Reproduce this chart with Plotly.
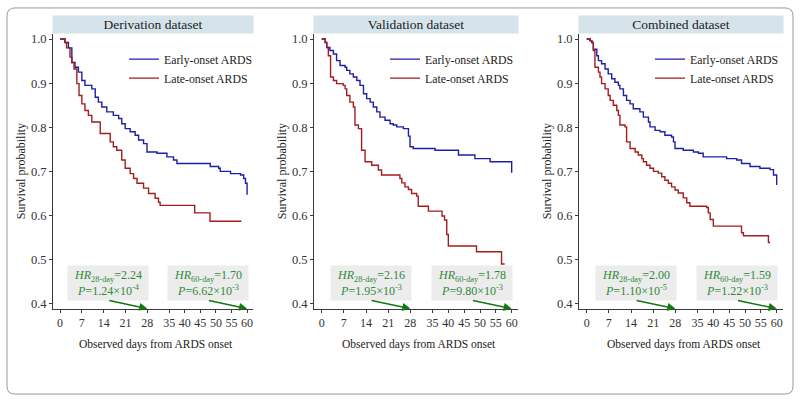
import plotly.graph_objects as go

# ---------------- data ----------------
panel_titles = ["Derivation dataset", "Validation dataset", "Combined dataset"]
series_names = ["Early-onset ARDS", "Late-onset ARDS"]

deriv_early_t = [0, 1.6, 2.7, 3.8, 4.8, 5.9, 7.0, 8.0, 10.2, 11.3, 12.3, 13.4, 15.0, 17.1, 18.8, 19.8,
                 20.9, 22.5, 24.1, 25.2, 26.8, 27.9, 31.1, 34.3, 36.4, 37.5, 48.2, 50.9, 51.4, 54.7,
                 57.9, 58.9, 59.5, 60.0]
deriv_early_s = [1.0, 0.992, 0.980, 0.947, 0.936, 0.925, 0.906, 0.895, 0.887, 0.868, 0.857, 0.846, 0.835,
                 0.827, 0.820, 0.808, 0.797, 0.790, 0.782, 0.771, 0.763, 0.744, 0.741, 0.733, 0.726,
                 0.718, 0.711, 0.707, 0.700, 0.695, 0.692, 0.684, 0.673, 0.647]
deriv_late_t = [0, 1.6, 2.1, 3.2, 3.8, 4.5, 5.4, 6.1, 7.0, 8.0, 9.1, 10.2, 12.9, 16.1, 17.1, 18.2, 19.8,
                20.9, 22.5, 23.6, 24.7, 26.8, 28.4, 30.5, 31.6, 32.1, 43.2, 48.1, 58.2]
deriv_late_s = [1.0, 0.992, 0.980, 0.959, 0.947, 0.932, 0.899, 0.872, 0.853, 0.838, 0.827, 0.812, 0.786,
                0.767, 0.756, 0.748, 0.726, 0.707, 0.695, 0.684, 0.673, 0.662, 0.650, 0.639, 0.630,
                0.623, 0.606, 0.587, 0.587]

valid_early_t = [0, 1.1, 1.6, 2.6, 3.7, 4.7, 5.8, 7.4, 7.9, 8.9, 10.0, 11.1, 12.1, 13.2, 14.2, 15.3, 16.3,
                 17.4, 18.4, 20.0, 21.6, 22.6, 23.7, 25.8, 27.4, 27.9, 28.9, 35.8, 43.2, 48.4, 53.2,
                 60.0, 60.0]
valid_early_s = [1.0, 0.992, 0.981, 0.974, 0.966, 0.951, 0.940, 0.936, 0.929, 0.921, 0.914, 0.906, 0.895,
                 0.876, 0.865, 0.857, 0.846, 0.835, 0.823, 0.816, 0.808, 0.805, 0.801, 0.797, 0.780,
                 0.756, 0.752, 0.748, 0.737, 0.729, 0.722, 0.722, 0.697]
valid_late_t = [0, 1.1, 1.6, 2.1, 2.8, 3.7, 4.7, 6.8, 7.4, 7.9, 8.9, 10.0, 10.5, 11.6, 12.6, 13.7, 15.8,
                17.9, 18.9, 24.7, 25.3, 26.3, 27.4, 28.4, 30.0, 30.5, 33.7, 38.0, 38.8, 39.5, 40.0,
                48.9, 56.8, 57.8]
valid_late_s = [1.0, 0.992, 0.981, 0.962, 0.914, 0.906, 0.899, 0.895, 0.887, 0.872, 0.857, 0.846, 0.805,
                0.797, 0.748, 0.722, 0.714, 0.703, 0.692, 0.684, 0.674, 0.665, 0.659, 0.650, 0.644,
                0.621, 0.610, 0.599, 0.590, 0.557, 0.531, 0.518, 0.490, 0.490]

comb_early_t = [0, 1.1, 1.6, 2.1, 3.2, 3.7, 4.7, 5.8, 6.8, 7.9, 8.9, 10.0, 10.5, 11.6, 12.6, 13.7, 14.7,
                16.8, 17.9, 19.5, 20.0, 21.6, 23.2, 24.7, 26.8, 27.4, 27.9, 30.5, 33.7, 35.3, 36.8,
                44.2, 47.4, 48.9, 51.6, 54.7, 57.9, 59.0, 60.0]
comb_early_s = [1.0, 0.996, 0.992, 0.977, 0.962, 0.951, 0.944, 0.932, 0.921, 0.910, 0.902, 0.895, 0.887,
                0.872, 0.861, 0.853, 0.842, 0.835, 0.823, 0.812, 0.801, 0.793, 0.790, 0.782, 0.778,
                0.767, 0.752, 0.748, 0.744, 0.741, 0.733, 0.729, 0.726, 0.718, 0.711, 0.707, 0.704,
                0.692, 0.669]
comb_late_t = [0, 1.1, 1.6, 2.1, 2.6, 3.7, 4.2, 4.7, 5.8, 6.8, 7.4, 8.4, 9.5, 10.0, 10.5, 12.1, 12.6,
               13.7, 15.3, 16.3, 17.4, 17.9, 18.9, 20.0, 21.1, 22.6, 23.7, 24.7, 25.8, 26.8, 27.9,
               28.9, 30.5, 31.6, 32.6, 37.9, 38.4, 39.0, 40.0, 48.9, 49.5, 57.4, 57.9]
comb_late_s = [1.0, 0.996, 0.992, 0.974, 0.936, 0.925, 0.914, 0.899, 0.887, 0.872, 0.861, 0.850, 0.838,
               0.827, 0.805, 0.801, 0.767, 0.752, 0.744, 0.737, 0.729, 0.722, 0.714, 0.707, 0.700,
               0.696, 0.688, 0.680, 0.673, 0.665, 0.658, 0.651, 0.640, 0.629, 0.621, 0.618, 0.606,
               0.591, 0.576, 0.561, 0.554, 0.539, 0.539]

hr28 = ["2.24", "2.16", "2.00"]
p28 = [("1.24", "-4"), ("1.95", "-3"), ("1.10", "-5")]
hr60 = ["1.70", "1.78", "1.59"]
p60 = [("6.62", "-3"), ("9.80", "-3"), ("1.22", "-3")]

x_ticks = [0, 7, 14, 21, 28, 35, 40, 45, 50, 55, 60]
y_ticks = [0.4, 0.5, 0.6, 0.7, 0.8, 0.9, 1.0]

curves = [
    (deriv_early_t, deriv_early_s, deriv_late_t, deriv_late_s),
    (valid_early_t, valid_early_s, valid_late_t, valid_late_s),
    (comb_early_t, comb_early_s, comb_late_t, comb_late_s),
]

# ---------------- styling / layout ----------------
W, H = 800, 404
FONT = "Liberation Serif"
BLUE = "#1f1fa6"
RED = "#a31d1d"
GREEN_TXT = "#2f8a35"
GREEN_ARR = "#127812"
AX = "#3a3a3a"

panel_px = [(53, 253), (314, 518), (579, 783)]
x_ranges = [[-2.25, 61.9], [-2.43, 62.0], [-2.43, 62.0]]
y_top_px, y_bot_px = 33, 310
y_range = [0.3888, 1.012]

fig = go.Figure()
layout = dict(
    width=W, height=H,
    margin=dict(l=0, r=0, t=0, b=0),
    paper_bgcolor="white", plot_bgcolor="white",
    font=dict(family=FONT, size=12, color="#222"),
    annotations=[], shapes=[],
)

def px2x(p):
    return p / W

def px2y(p):
    return 1 - p / H

for i in range(3):
    sfx = "" if i == 0 else str(i + 1)
    xa, ya = "x" + sfx, "y" + sfx
    leg = "legend" + sfx
    et, es, lt, ls = curves[i]
    fig.add_trace(go.Scatter(x=et, y=es, mode="lines", line=dict(color=BLUE, width=1.4, shape="hv"),
                             name=series_names[0], xaxis=xa, yaxis=ya, legend=leg))
    fig.add_trace(go.Scatter(x=lt, y=ls, mode="lines", line=dict(color=RED, width=1.4, shape="hv"),
                             name=series_names[1], xaxis=xa, yaxis=ya, legend=leg))

    l, r = panel_px[i]
    layout["xaxis" + sfx] = dict(
        domain=[px2x(l), px2x(r)], range=x_ranges[i], anchor=ya,
        tickvals=x_ticks, ticktext=[str(v) for v in x_ticks],
        ticks="outside", ticklen=3, tickcolor=AX, tickwidth=1,
        showline=True, linecolor=AX, linewidth=1, showgrid=False, zeroline=False,
        tickfont=dict(family=FONT, size=12, color="#333"),
    )
    layout["yaxis" + sfx] = dict(
        domain=[px2y(y_bot_px), px2y(y_top_px)], range=y_range, anchor=xa,
        tickvals=y_ticks, ticktext=["%.1f" % v for v in y_ticks],
        ticks="outside", ticklen=3, tickcolor=AX, tickwidth=1,
        showline=True, linecolor=AX, linewidth=1, showgrid=False, zeroline=False,
        tickfont=dict(family=FONT, size=12.5, color="#333"),
    )
    layout[leg] = dict(
        x=px2x(l + 71), y=px2y(44), xanchor="left", yanchor="top",
        bgcolor="rgba(0,0,0,0)", borderwidth=0,
        font=dict(family=FONT, size=11.8, color="#222"),
    )
    layout["annotations"].append(dict(
        text=panel_titles[i], xref="paper", yref="paper",
        x=px2x((l + r) / 2), y=px2y(23.5), xanchor="center", yanchor="middle",
        showarrow=False, bgcolor="#d5e4eb", width=r - l, height=17, borderpad=0,
        font=dict(family=FONT, size=13.5, color="#222"),
    ))
    layout["annotations"].append(dict(
        text="Survival probability", xref="paper", yref="paper",
        x=px2x(l - 32), y=px2y((y_top_px + y_bot_px) / 2), textangle=-90,
        xanchor="center", yanchor="middle", showarrow=False,
        font=dict(family=FONT, size=12, color="#222"),
    ))
    layout["annotations"].append(dict(
        text="Observed days from ARDS onset", xref="paper", yref="paper",
        x=px2x((l + r) / 2 + 3), y=px2y(346), xanchor="center", yanchor="middle",
        showarrow=False, font=dict(family=FONT, size=11.5, color="#222"),
    ))
    for cx, hr, (pm, pe), lab in [(15.5, hr28[i], p28[i], "28-day"), (47.5, hr60[i], p60[i], "60-day")]:
        txt = ("<i>HR</i><sub>%s</sub>=%s<br><i>P</i>=%s×10<sup>%s</sup>" % (lab, hr, pm, pe))
        layout["annotations"].append(dict(
            text=txt, xref=xa, yref=ya, x=cx, y=0.446, xanchor="center", yanchor="middle",
            showarrow=False, bgcolor="#ececec", width=80, height=34, borderpad=0,
            font=dict(family=FONT, size=12, color=GREEN_TXT),
        ))
    for tail, head in [(15.3, 28), (47.3, 60)]:
        layout["annotations"].append(dict(
            text="", xref=xa, yref=ya, x=head, y=0.389, axref=xa, ayref=ya, ax=tail, ay=0.408,
            showarrow=True, arrowhead=2, arrowsize=1, arrowwidth=1.6, arrowcolor=GREEN_ARR,
        ))

x0, y0, x1, y1 = px2x(7), px2y(7), px2x(793), px2y(396)
rx, ry = 8 / W, 8 / H
path = (f"M{x0+rx},{y0} L{x1-rx},{y0} Q{x1},{y0} {x1},{y0-ry} L{x1},{y1+ry} Q{x1},{y1} {x1-rx},{y1} "
        f"L{x0+rx},{y1} Q{x0},{y1} {x0},{y1+ry} L{x0},{y0-ry} Q{x0},{y0} {x0+rx},{y0} Z")
layout["shapes"].append(dict(type="path", path=path, xref="paper", yref="paper",
                             line=dict(color="#9a9a9a", width=1), layer="below"))

fig.update_layout(**layout)
fig.write_html("out.html", config={"displayModeBar": False},
               post_script="document.body.style.margin='0';document.body.style.overflow='hidden';")
